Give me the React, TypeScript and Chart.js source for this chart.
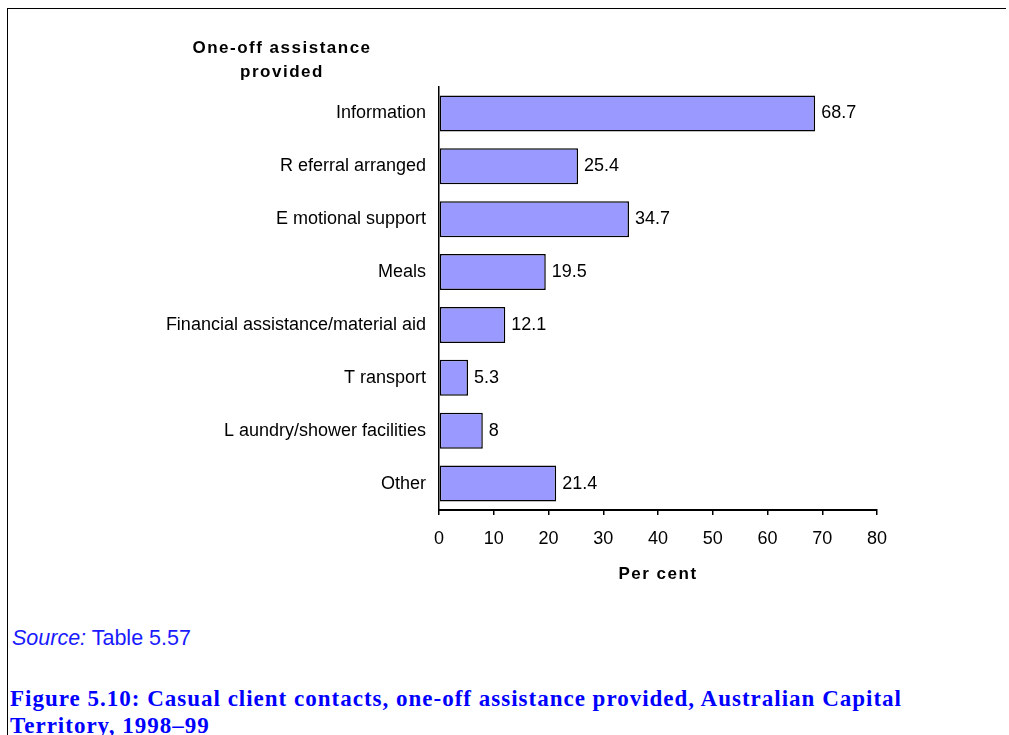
import React, { useEffect, useRef } from "react";
import { Chart, registerables } from "chart.js";

Chart.register(...registerables);

const categories = [
  "Information",
  "R eferral arranged",
  "E motional support",
  "Meals",
  "Financial assistance/material aid",
  "T ransport",
  "L aundry/shower facilities",
  "Other",
];
const values = [68.7, 25.4, 34.7, 19.5, 12.1, 5.3, 8, 21.4];
const valueLabels = ["68.7", "25.4", "34.7", "19.5", "12.1", "5.3", "8", "21.4"];
const xMin = 0;
const xMax = 80;
const xStep = 10;
const axisTitle = "Per cent";
const chartTitle = ["One-off assistance", "provided"];
const sourceLabel = "Source:";
const sourceText = " Table 5.57";
const captionLines = [
  "Figure 5.10: Casual client contacts, one-off assistance provided, Australian Capital",
  "Territory, 1998–99",
];

const FONT = "'Liberation Sans', Arial, sans-serif";

const textPlugin = {
  id: "textPlugin",
  afterDatasetsDraw(chart: any) {
    const ctx = chart.ctx;
    const meta = chart.getDatasetMeta(0);
    ctx.save();
    ctx.font = `18px ${FONT}`;
    ctx.fillStyle = "#000";
    ctx.textAlign = "left";
    ctx.textBaseline = "middle";
    meta.data.forEach((bar: any, i: number) => {
      ctx.fillText(valueLabels[i], bar.x + 6, bar.y);
    });
    ctx.restore();
  },
  afterDraw(chart: any) {
    const ctx = chart.ctx;
    const area = chart.chartArea;
    ctx.save();
    ctx.fillStyle = "#000";
    ctx.textAlign = "center";
    ctx.textBaseline = "middle";
    ctx.font = `bold 17px ${FONT}`;
    (ctx as any).letterSpacing = "1.5px";
    ctx.fillText(axisTitle, (area.left + area.right) / 2, 574);
    chartTitle.forEach((t, i) => {
      ctx.fillText(t, 282, 48 + i * 24);
    });
    ctx.restore();
  },
};

export default function App() {
  const canvasRef = useRef<HTMLCanvasElement | null>(null);

  useEffect(() => {
    if (!canvasRef.current) return;
    const chart = new Chart(canvasRef.current, {
      type: "bar",
      data: {
        labels: categories,
        datasets: [
          {
            data: values,
            backgroundColor: "#9999FF",
            borderColor: "#000",
            borderWidth: 1.5,
            borderSkipped: false,
            categoryPercentage: 1,
            barPercentage: 0.68,
          },
        ],
      },
      options: {
        indexAxis: "y",
        responsive: false,
        animation: false,
        layout: { padding: { left: 0, right: 132, top: 87, bottom: 0 } },
        plugins: {
          legend: { display: false },
          tooltip: { enabled: false },
          title: { display: false },
        },
        scales: {
          x: {
            min: xMin,
            max: xMax,
            position: "bottom",
            afterFit: (s: any) => {
              s.height = 90;
            },
            ticks: {
              stepSize: xStep,
              color: "#000",
              padding: 13,
              font: { family: FONT, size: 18 },
              maxRotation: 0,
            },
            grid: {
              display: true,
              drawOnChartArea: false,
              drawTicks: true,
              tickLength: 5,
              color: "#000",
              lineWidth: 1.5,
            },
            border: { display: true, color: "#000", width: 2 },
          },
          y: {
            afterFit: (s: any) => {
              s.width = 439;
            },
            ticks: {
              color: "#000",
              padding: 13,
              font: { family: FONT, size: 18 },
            },
            grid: { display: false, drawTicks: false },
            border: { display: true, color: "#000", width: 1.5 },
          },
        },
      },
      plugins: [textPlugin],
    } as any);
    return () => chart.destroy();
  }, []);

  return (
    <div
      style={{
        position: "absolute",
        left: 0,
        top: 0,
        width: 1009,
        height: 735,
        overflow: "hidden",
        background: "#fff",
      }}
    >
      <div
        style={{
          position: "absolute",
          left: 7,
          top: 8,
          width: 998,
          height: 740,
          borderTop: "1px solid #000",
          borderLeft: "1px solid #000",
        }}
      />
      <canvas
        ref={canvasRef}
        width={1009}
        height={600}
        style={{ position: "absolute", left: 0, top: 0, width: 1009, height: 600 }}
      />
      <div
        style={{
          position: "absolute",
          left: 12,
          top: 626,
          fontFamily: FONT,
          fontSize: 21.5,
          lineHeight: "24px",
          color: "#1a1aff",
          whiteSpace: "pre",
        }}
      >
        <i>{sourceLabel}</i>
        {sourceText}
      </div>
      <div
        style={{
          position: "absolute",
          left: 10,
          top: 685,
          fontFamily: "'Liberation Serif', 'Times New Roman', serif",
          fontWeight: "bold",
          fontSize: 23,
          letterSpacing: "1px",
          lineHeight: "27px",
          color: "#0000ff",
          whiteSpace: "nowrap",
        }}
      >
        {captionLines[0]}
        <br />
        {captionLines[1]}
      </div>
    </div>
  );
}
